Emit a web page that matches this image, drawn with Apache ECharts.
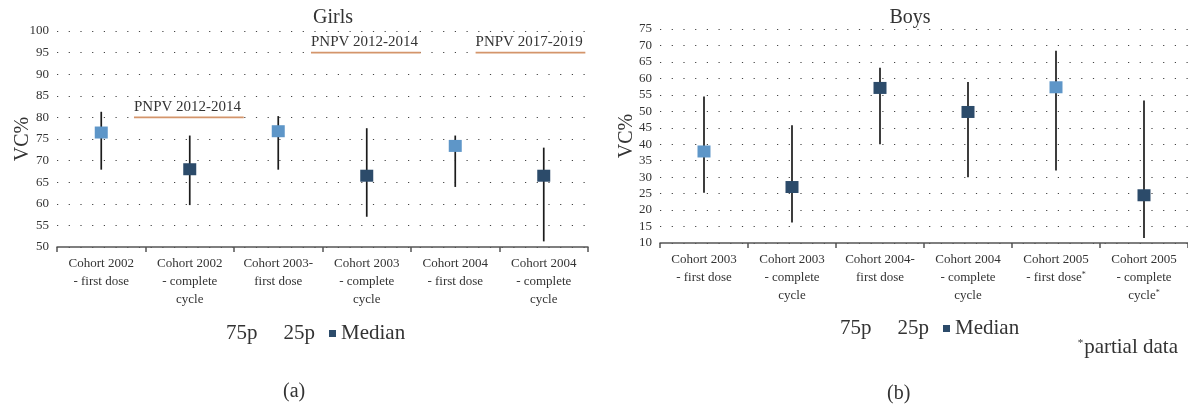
<!DOCTYPE html>
<html>
<head>
<meta charset="utf-8">
<script src="https://cdn.jsdelivr.net/npm/echarts@6/dist/echarts.min.js"></script>
<style>
  html, body { margin: 0; padding: 0; background: #fff; }
  #chart { width: 1188px; height: 408px; }
</style>
</head>
<body>
<div id="chart"></div>
<script>
// ---------------- DATA ----------------
const girlsCategories = [
  'Cohort 2002\n- first dose',
  'Cohort 2002\n- complete\ncycle',
  'Cohort 2003-\nfirst dose',
  'Cohort 2003\n- complete\ncycle',
  'Cohort 2004\n- first dose',
  'Cohort 2004\n- complete\ncycle'
];
const girlsP75 = [81.3, 75.8, 80.3, 77.5, 75.8, 73.0];
const girlsP25 = [67.9, 59.7, 67.9, 57.0, 63.9, 51.3];
const girlsMedian = [76.5, 68.0, 76.8, 66.5, 73.4, 66.5];
const girlsYTicks = { min: 50, max: 100, step: 5 };

// vaccination plan periods drawn as reference lines on the Girls panel
const girlsPeriodLabels = ['PNPV 2012-2014', 'PNPV 2012-2014', 'PNPV 2017-2019'];
const girlsPeriodLevel = [80, 95, 95];
const girlsPeriodFrom = [0.87, 2.87, 4.73];
const girlsPeriodTo = [2.11, 4.11, 5.97];

const boysCategories = [
  'Cohort 2003\n- first dose',
  'Cohort 2003\n- complete\ncycle',
  'Cohort 2004-\nfirst dose',
  'Cohort 2004\n- complete\ncycle',
  'Cohort 2005\n- first dose*',
  'Cohort 2005\n- complete\ncycle*'
];
const boysP75 = [54.5, 45.8, 63.2, 58.9, 68.4, 53.3];
const boysP25 = [25.3, 16.2, 40.0, 30.0, 32.0, 11.5];
const boysMedian = [37.8, 27.0, 57.1, 49.8, 57.3, 24.5];
const boysYTicks = { min: 10, max: 75, step: 5 };

const legendNames = ['75p', '25p', 'Median'];

// ---------------- STYLE ----------------
const FONT = "'Liberation Serif', 'DejaVu Serif', serif";
const LIGHT = '#5e96c8';
const DARK = '#2c4b6a';
const girlsMedianColors = [LIGHT, DARK, LIGHT, DARK, LIGHT, DARK];
const boysMedianColors = [LIGHT, DARK, DARK, DARK, LIGHT, DARK];
const TEXT = '#333333';

function rangeRender(params, api) {
  const x = api.value(0);
  const p1 = api.coord([x, api.value(1)]);
  const p2 = api.coord([x, api.value(2)]);
  return {
    type: 'line',
    shape: { x1: p1[0], y1: p1[1], x2: p2[0], y2: p2[1] },
    style: { stroke: '#1c1c1c', lineWidth: 1.7 }
  };
}

function catLabelFormatter(v) {
  return v.split('*').join('{sup|*}');
}

function xAxisDef(gridIndex, cats) {
  return {
    type: 'category', gridIndex, data: cats, boundaryGap: true,
    axisLine: { lineStyle: { color: '#555', width: 1.5 } },
    axisTick: { show: true, length: 5, lineStyle: { color: '#555', width: 1.5 } },
    axisLabel: {
      interval: 0, margin: 8, color: TEXT, fontFamily: FONT, fontSize: 13, lineHeight: 18,
      formatter: catLabelFormatter,
      rich: { sup: { fontSize: 8, fontFamily: FONT, color: TEXT, padding: [0, 0, 7, 0] } }
    },
    splitLine: { show: false }
  };
}

function yAxisDef(gridIndex, t, gap) {
  return {
    type: 'value', gridIndex, min: t.min, max: t.max, interval: t.step,
    name: 'VC%', nameLocation: 'middle', nameGap: gap, nameMoveOverlap: false,
    nameTextStyle: { fontFamily: FONT, fontSize: 20, color: TEXT },
    axisLine: { show: false }, axisTick: { show: false },
    axisLabel: { color: TEXT, fontFamily: FONT, fontSize: 13, margin: 8 },
    splitLine: { show: true, lineStyle: { color: '#444', width: 1.2, type: [1.2, 10.5] } }
  };
}

function panelSeries(xi, yi, p25, p75, med, colors) {
  const top = med.map((m, i) => [i, m, p75[i]]);
  const bottom = med.map((m, i) => [i, p25[i], m]);
  return [
    { name: '75p', type: 'custom', xAxisIndex: xi, yAxisIndex: yi, renderItem: rangeRender,
      encode: { x: 0, y: [1, 2] }, data: top, itemStyle: { color: '#1c1c1c' }, z: 2 },
    { name: '25p', type: 'custom', xAxisIndex: xi, yAxisIndex: yi, renderItem: rangeRender,
      encode: { x: 0, y: [1, 2] }, data: bottom, itemStyle: { color: '#1c1c1c' }, z: 2 },
    { name: 'Median', type: 'scatter', xAxisIndex: xi, yAxisIndex: yi, symbol: 'rect',
      symbolSize: [13, 12], data: med,
      itemStyle: { color: (p) => colors[p.dataIndex], opacity: 1 }, z: 5 }
  ];
}

const periodSeries = girlsPeriodLabels.map((lab, k) => ({
  type: 'line', xAxisIndex: 2, yAxisIndex: 0, symbol: 'circle', symbolSize: 0.1, showSymbol: true,
  silent: true, lineStyle: { color: '#d4956b', width: 1.8 },
  itemStyle: { color: '#d4956b' },
  data: [
    { value: [girlsPeriodFrom[k], girlsPeriodLevel[k]],
      label: { show: true, formatter: lab, position: 'top', align: 'left', distance: 3,
               fontFamily: FONT, fontSize: 15, color: TEXT } },
    { value: [girlsPeriodTo[k], girlsPeriodLevel[k]] }
  ],
  z: 3
}));

function legendDef(left, top) {
  return {
    left, top, itemWidth: 7, itemHeight: 7, itemGap: 14, selectedMode: false,
    textStyle: { fontFamily: FONT, fontSize: 21, color: TEXT },
    data: [
      { name: legendNames[0], icon: 'rect', itemStyle: { opacity: 0 } },
      { name: legendNames[1], icon: 'rect', itemStyle: { opacity: 0 } },
      { name: legendNames[2], icon: 'rect', itemStyle: { color: DARK } }
    ]
  };
}

const chart = echarts.init(document.getElementById('chart'), null, { renderer: 'canvas' });
chart.setOption({
  animation: false,
  backgroundColor: '#fff',
  title: [
    { text: 'Girls', left: 328, top: 3, textAlign: 'center',
      textStyle: { fontFamily: FONT, fontSize: 20, fontWeight: 'normal', color: TEXT } },
    { text: 'Boys', left: 905, top: 3, textAlign: 'center',
      textStyle: { fontFamily: FONT, fontSize: 20, fontWeight: 'normal', color: TEXT } }
  ],
  grid: [
    { left: 57, top: 31, width: 531, height: 216, containLabel: false },
    { left: 660, top: 29, width: 528, height: 214, containLabel: false }
  ],
  xAxis: [
    xAxisDef(0, girlsCategories),
    xAxisDef(1, boysCategories),
    { type: 'value', gridIndex: 0, min: 0, max: 6, show: false }
  ],
  yAxis: [
    yAxisDef(0, girlsYTicks, 24),
    yAxisDef(1, boysYTicks, 23)
  ],
  legend: [legendDef(209, 318), legendDef(823, 313)],
  graphic: [
    { type: 'text', left: 283, top: 382,
      style: { text: '(a)', fontFamily: FONT, fontSize: 20, fill: TEXT } },
    { type: 'text', left: 887, top: 384,
      style: { text: '(b)', fontFamily: FONT, fontSize: 20, fill: TEXT } },
    { type: 'text', right: 10, top: 337,
      style: { text: '{sup|*}partial data', fontFamily: FONT, fontSize: 21, fill: TEXT,
               rich: { sup: { fontSize: 11, fontFamily: FONT, fill: TEXT, padding: [0, 1, 9, 0] } } } }
  ],
  series: [
    ...panelSeries(0, 0, girlsP25, girlsP75, girlsMedian, girlsMedianColors),
    ...panelSeries(1, 1, boysP25, boysP75, boysMedian, boysMedianColors),
    ...periodSeries
  ]
});
</script>
</body>
</html>
